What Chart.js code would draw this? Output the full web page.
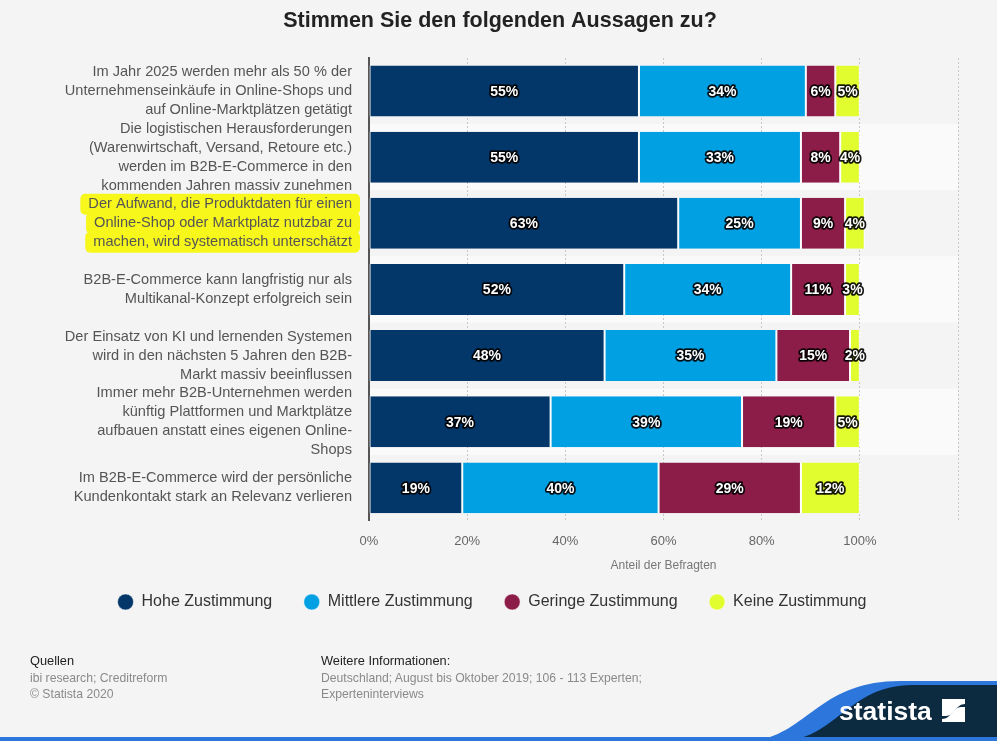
<!DOCTYPE html>
<html>
<head>
<meta charset="utf-8">
<script src="https://cdn.jsdelivr.net/npm/chart.js@4.4.1/dist/chart.umd.min.js"></script>
<style>
  html, body { margin: 0; padding: 0; background: #f4f4f4; }
  body { width: 997px; height: 741px; position: relative; overflow: hidden; font-family: "Liberation Sans", Arial, sans-serif; }
  #wrap { position: absolute; left: 0; top: 0; width: 997px; height: 741px; }
  .ft { position: absolute; font-size: 12.2px; line-height: 16.5px; color: #8a8a8a; }
  .ft b { font-weight: normal; color: #222; font-size: 12.8px; }
  #logo { position: absolute; left: 0; top: 0; }
  #logotext { position: absolute; left: 839px; top: 696px; color: #fff; font-weight: bold; font-size: 26.5px; font-family: "Liberation Sans Narrow", "Liberation Sans", Arial, sans-serif; }
</style>
</head>
<body>
<div id="wrap"><canvas id="c" width="997" height="741"></canvas></div>
<svg id="logo" width="997" height="741" viewBox="0 0 997 741">
  <path d="M 745 741 C 805 741, 815 681, 900 681 L 997 681 L 997 741 Z" fill="#2d76dc"/>
  <path d="M 780 741 C 835 741, 848 685, 912 685 L 997 685 L 997 741 Z" fill="#0c2a40"/>
  <rect x="0" y="737" width="997" height="4" fill="#2d76dc"/>
  <path d="M 942 699 H 965 V 704 C 956 704, 954 716, 946 716 H 942 Z" fill="#fff"/>
  <path d="M 965 722 H 942 V 719 C 951 719, 953 707, 961 707 H 965 Z" fill="#fff"/>
</svg>
<div id="logotext">statista</div>
<div class="ft" style="left:30px; top:653px;"><b>Quellen</b><br>ibi research; Creditreform<br>© Statista 2020</div>
<div class="ft" style="left:321px; top:653px;"><b>Weitere Informationen:</b><br>Deutschland; August bis Oktober 2019; 106 - 113 Experten;<br>Experteninterviews</div>
<script>
const chartTitle = 'Stimmen Sie den folgenden Aussagen zu?';
const categories = [
  ["Im Jahr 2025 werden mehr als 50 % der", "Unternehmenseinkäufe in Online-Shops und", "auf Online-Marktplätzen getätigt"],
  ["Die logistischen Herausforderungen", "(Warenwirtschaft, Versand, Retoure etc.)", "werden im B2B-E-Commerce in den", "kommenden Jahren massiv zunehmen"],
  ["Der Aufwand, die Produktdaten für einen", "Online-Shop oder Marktplatz nutzbar zu", "machen, wird systematisch unterschätzt"],
  ["B2B-E-Commerce kann langfristig nur als", "Multikanal-Konzept erfolgreich sein"],
  ["Der Einsatz von KI und lernenden Systemen", "wird in den nächsten 5 Jahren den B2B-", "Markt massiv beeinflussen"],
  ["Immer mehr B2B-Unternehmen werden", "künftig Plattformen und Marktplätze", "aufbauen anstatt eines eigenen Online-", "Shops"],
  ["Im B2B-E-Commerce wird der persönliche", "Kundenkontakt stark an Relevanz verlieren"]
];
const seriesNames = ["Hohe Zustimmung", "Mittlere Zustimmung", "Geringe Zustimmung", "Keine Zustimmung"];
const hohe     = [55, 55, 63, 52, 48, 37, 19];
const mittlere = [34, 33, 25, 34, 35, 39, 40];
const geringe  = [6, 8, 9, 11, 15, 19, 29];
const keine    = [5, 4, 4, 3, 2, 5, 12];
const xTicks = [0, 20, 40, 60, 80, 100];
const xAxisTitle = 'Anteil der Befragten';
const highlightedIndex = 2;

const colors = ["#03376a", "#00a0e2", "#8c1c48", "#e1fd30"];
const FONT = '"Liberation Sans", Arial, sans-serif';
const Y_FONT_SIZE = 14.6, Y_LINE_H = 1.3, Y_PAD = 9;
const PAD_L = 26;

const bandPlugin = {
  id: 'bands',
  beforeDraw(chart) {
    const { ctx, chartArea, scales } = chart;
    const y = scales.y;
    const n = categories.length;
    const h = (chartArea.bottom - chartArea.top) / n;
    ctx.save();
    ctx.fillStyle = '#fafafa';
    for (let i = 1; i < n; i += 2) {
      const c = y.getPixelForValue(i);
      ctx.fillRect(chartArea.left, c - h / 2, chartArea.right - chartArea.left, h);
    }
    // highlight behind one category label
    const lines = categories[highlightedIndex];
    const lh = Y_FONT_SIZE * Y_LINE_H;
    const cy = y.getPixelForValue(highlightedIndex);
    const right = chartArea.left - 9;
    ctx.font = Y_FONT_SIZE + 'px ' + FONT;
    ctx.fillStyle = '#f7f71c';
    const top0 = cy - lines.length * lh / 2;
    lines.forEach((ln, k) => {
      const w = ctx.measureText(ln).width;
      const textRight = chartArea.left - 17;
      const x0 = textRight - w - 8;
      ctx.beginPath();
      ctx.roundRect(x0, top0 + k * lh - 1, right - x0, lh + 2, 5);
      ctx.fill();
    });
    ctx.restore();
  },
  afterDraw(chart) {
    const { ctx, chartArea } = chart;
    ctx.save();
    ctx.textAlign = 'center';
    ctx.textBaseline = 'middle';
    ctx.font = '12px ' + FONT;
    ctx.fillStyle = '#777';
    ctx.fillText(xAxisTitle, (chartArea.left + chartArea.right) / 2, chartArea.bottom + 45);
    ctx.font = 'bold 21.5px ' + FONT;
    ctx.fillStyle = '#222';
    ctx.fillText(chartTitle, 500, 21);
    ctx.restore();
  }
};

const labelPlugin = {
  id: 'vlabels',
  afterDatasetsDraw(chart) {
    const { ctx } = chart;
    ctx.save();
    ctx.font = 'bold 14px ' + FONT;
    ctx.textAlign = 'center';
    ctx.textBaseline = 'middle';
    ctx.lineJoin = 'round';
    chart.data.datasets.forEach((ds, di) => {
      const meta = chart.getDatasetMeta(di);
      meta.data.forEach((bar, i) => {
        const v = ds.data[i];
        const x = (bar.x + bar.base) / 2;
        const y = bar.y + 1;
        const t = v + '%';
        ctx.lineWidth = 3.5;
        ctx.strokeStyle = 'rgba(0,0,0,0.9)';
        ctx.strokeText(t, x, y);
        ctx.fillStyle = '#fff';
        ctx.fillText(t, x, y);
      });
    });
    ctx.restore();
  }
};

new Chart(document.getElementById('c'), {
  type: 'bar',
  data: {
    labels: categories,
    datasets: [hohe, mittlere, geringe, keine].map((d, i) => ({
      label: seriesNames[i],
      data: d,
      backgroundColor: colors[i],
      borderColor: '#ffffff',
      borderWidth: { left: 1, right: 1, top: 0, bottom: 0 },
      borderSkipped: false,
      categoryPercentage: 1,
      barPercentage: 0.77
    }))
  },
  options: {
    indexAxis: 'y',
    responsive: false,
    animation: false,
    layout: { padding: { left: PAD_L, right: 39, top: 58, bottom: 121 } },
    plugins: {
      title: { display: false },
      legend: {
        position: 'bottom',
        labels: {
          usePointStyle: true,
          pointStyle: 'circle',
          boxWidth: 17,
          boxHeight: 11.3,
          padding: 31.5,
          color: '#333',
          font: { family: FONT, size: 16 }
        }
      },
      tooltip: { enabled: false }
    },
    scales: {
      x: {
        stacked: true,
        min: 0,
        max: 120,
        afterBuildTicks(scale) {
          scale.ticks = [0, 20, 40, 60, 80, 100, 120].map(v => ({ value: v }));
        },
        ticks: {
          callback: (v) => xTicks.includes(v) ? v + '%' : '',
          color: '#666',
          padding: 13,
          maxRotation: 0,
          font: { family: FONT, size: 13 }
        },
        grid: {
          color: '#c8c8c8',
          drawTicks: false
        },
        border: { display: false, dash: [2, 2] }
      },
      y: {
        stacked: true,
        afterFit(scale) { scale.width = 369 - PAD_L; },
        grid: { display: false },
        border: { display: true, color: '#555', width: 2 },
        ticks: {
          autoSkip: false,
          color: '#555',
          padding: Y_PAD,
          font: { family: FONT, size: Y_FONT_SIZE, lineHeight: Y_LINE_H }
        }
      }
    }
  },
  plugins: [bandPlugin, labelPlugin]
});
</script>
</body>
</html>
